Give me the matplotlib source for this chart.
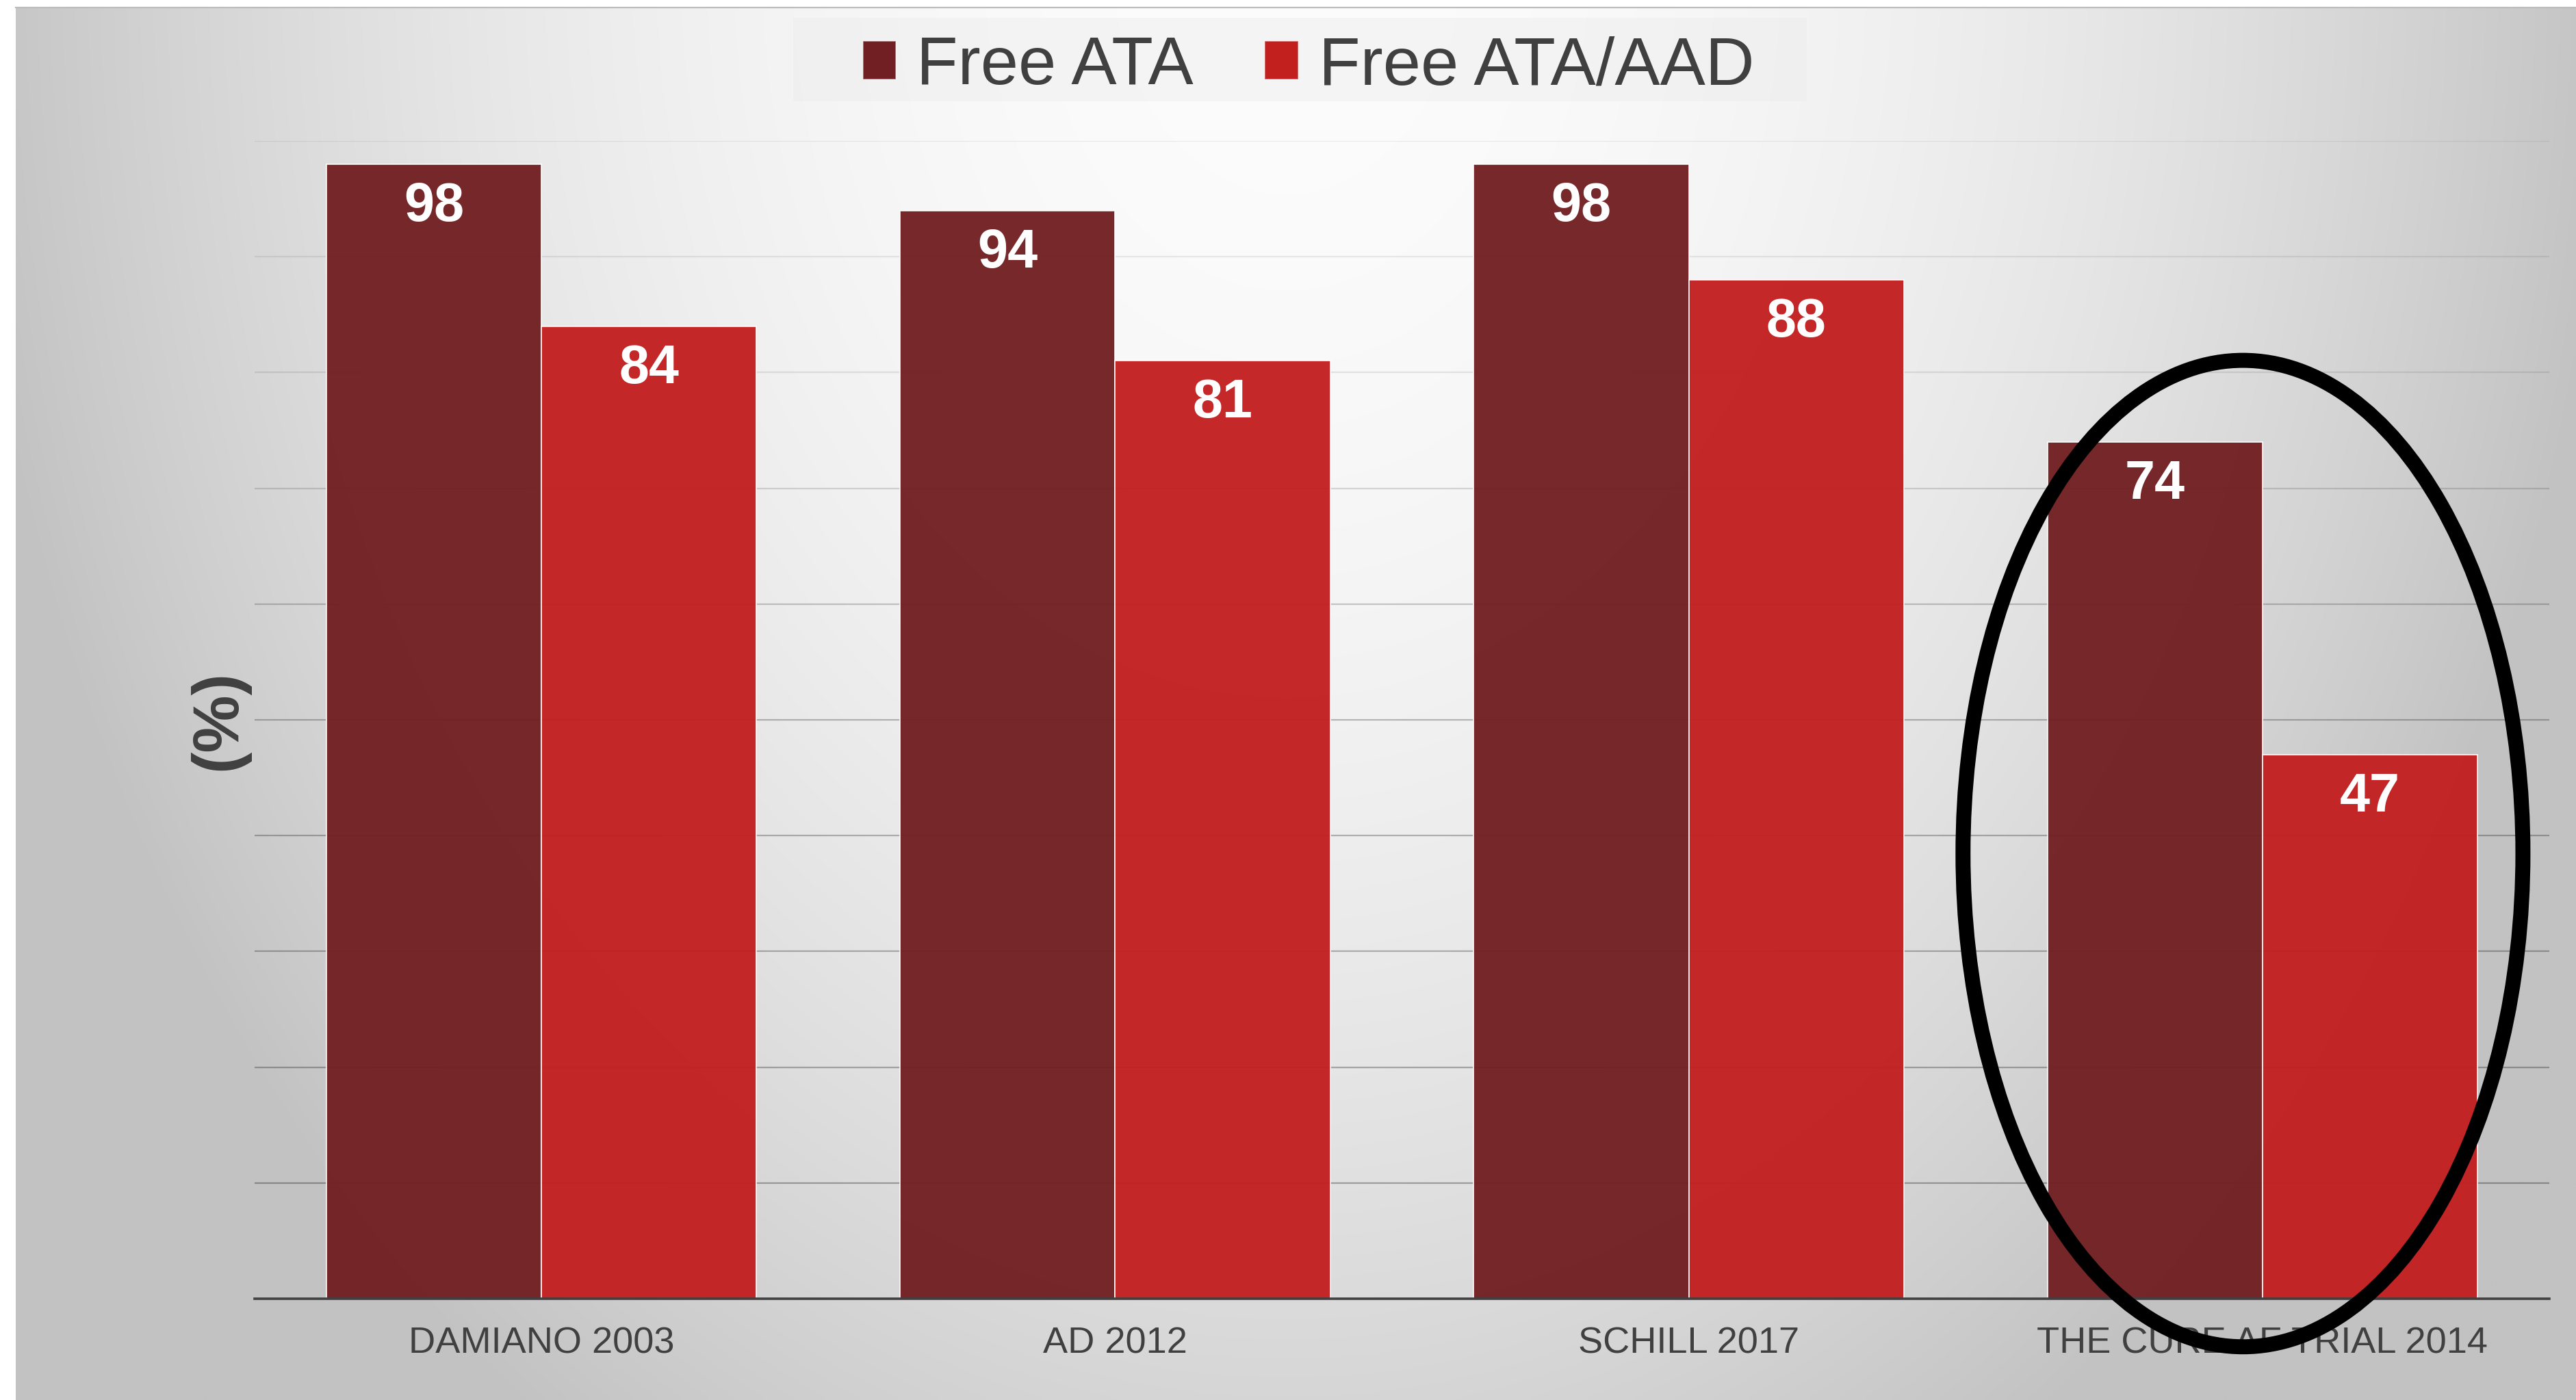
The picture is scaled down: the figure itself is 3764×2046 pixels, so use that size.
import numpy as np
import matplotlib
matplotlib.use("Agg")
import matplotlib.pyplot as plt
from matplotlib.patches import Ellipse, Rectangle, Patch
from matplotlib.lines import Line2D

# ---------------- data ----------------
categories = ['DAMIANO 2003', 'AD 2012', 'SCHILL 2017', 'THE CURE AF TRIAL 2014']
free_ata = [98, 94, 98, 74]
free_ata_aad = [84, 81, 88, 47]
series_names = ['Free ATA', 'Free ATA/AAD']
y_label = '(%)'

# ---------------- style ----------------
plt.rcParams['font.family'] = ['Liberation Sans', 'DejaVu Sans']
c_dark = '#711F22'
c_red = '#C21F1F'
edge = (1, 1, 1, 0.45)
txt_col = '#404040'

W, H = 3764, 2046
fig = plt.figure(figsize=(W / 100, H / 100), dpi=100, facecolor='white')

# background gradient panel
bg = fig.add_axes([23 / W, 0, 1 - 23 / W, 1 - 10 / H], zorder=-10)
ny, nx = 300, 560
xs = np.linspace(23, W, nx)
ys = np.linspace(10, H, ny)
X, Y = np.meshgrid(xs, ys)
r2 = ((X - 1880) / 1950) ** 2 + ((Y + 60) / 2600) ** 2
g = 252 - 58 * np.clip(r2, 0, 1)
img = np.dstack([g, g, g]) / 255.0
bg.imshow(img, extent=[23, W, H, 10], aspect='auto', interpolation='bilinear')
bg.set_xlim(23, W)
bg.set_ylim(H, 10)
bg.axis('off')
fig.add_artist(Line2D([23 / W, 1], [1 - 10.5 / H, 1 - 10.5 / H], color='#bdbdbd', lw=1.6))

# main axes
ax = fig.add_axes([372 / W, (H - 1898) / H, (3725 - 372) / W, (1898 - 206) / H])
ax.patch.set_alpha(0)

x = np.arange(len(categories))
w = 0.375
b1 = ax.bar(x - w / 2, free_ata, w, color=c_dark, edgecolor=edge, linewidth=1.2, alpha=0.96, zorder=3)
b2 = ax.bar(x + w / 2, free_ata_aad, w, color=c_red, edgecolor=edge, linewidth=1.2, alpha=0.96, zorder=3)

ax.set_xlim(-0.5, len(categories) - 0.5)
ax.set_ylim(0, 100)
ax.set_yticks(np.arange(10, 101, 10))
ax.set_yticklabels([])
ax.tick_params(axis='y', length=0)
ax.set_xticks(x)
ax.set_xticklabels(categories)
ax.tick_params(axis='x', length=0, pad=29, labelsize=39, labelcolor=txt_col)

ax.grid(axis='y', color='black', linewidth=1.6, zorder=0)
ax.set_axisbelow(True)
grid_alpha = {100: 0.07, 90: 0.08, 80: 0.09, 70: 0.14, 60: 0.2, 50: 0.25, 40: 0.26, 30: 0.27, 20: 0.28, 10: 0.3}
for tv, gl in zip(ax.get_yticks(), ax.yaxis.get_gridlines()):
    gl.set_alpha(grid_alpha.get(int(round(tv)), 0.2))

for s in ['top', 'right', 'left']:
    ax.spines[s].set_visible(False)
ax.spines['bottom'].set_color(txt_col)
ax.spines['bottom'].set_linewidth(2.6)
ax.spines['bottom'].set_zorder(4)

# value labels
for bars, vals in ((b1, free_ata), (b2, free_ata_aad)):
    for rect, v in zip(bars, vals):
        ax.annotate(f'{v}', (rect.get_x() + rect.get_width() / 2, v),
                    xytext=(0, -18), textcoords='offset points',
                    ha='center', va='top', color='white', fontsize=57,
                    fontweight='bold', zorder=6)

# highlight ellipse around last group
last = len(categories) - 1
ell = Ellipse((last - 0.034, 38.45), 0.976, 85.2, fill=False, edgecolor='black',
              linewidth=15.8, clip_on=False, zorder=7)
ax.add_patch(ell)

# y label
fig.text(320 / W, 1 - 1052 / H, y_label, rotation=90, fontsize=68, fontweight='bold',
         color=txt_col, ha='center', va='center')

# legend panel + legend
fig.add_artist(Rectangle((1159 / W, 1 - 148 / H), (2640 - 1159) / W, 122 / H,
                         transform=fig.transFigure, facecolor='#ececec', alpha=0.45,
                         edgecolor='none', zorder=1))
handles = [Patch(facecolor=c_dark, edgecolor=edge, linewidth=1.2),
           Patch(facecolor=c_red, edgecolor=edge, linewidth=1.2)]
fig.legend(handles, series_names, loc='center', bbox_to_anchor=(1912 / W, 1 - 98 / H),
           ncol=2, frameon=False, fontsize=71.5, labelcolor=txt_col,
           handlelength=0.49, handleheight=0.49, handletextpad=0.3,
           columnspacing=1.05, borderpad=0, borderaxespad=0)

fig.savefig('out.png', dpi=100, facecolor='white')
